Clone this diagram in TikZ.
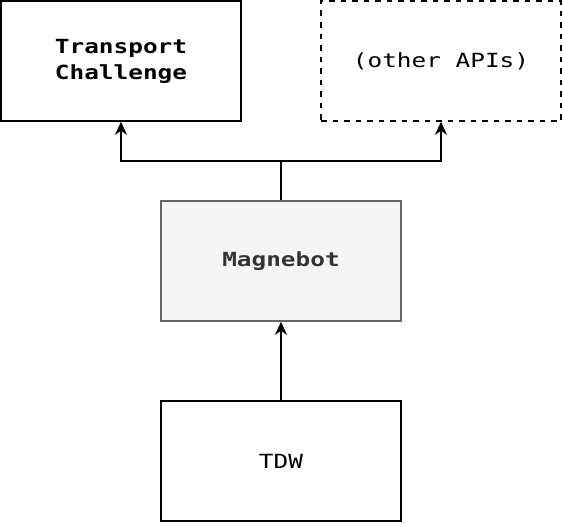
\documentclass[tikz,border=0pt]{standalone}
\usepackage{fontspec}
\usetikzlibrary{arrows.meta}
\newfontfamily\diagmono[FakeStretch=1.25]{DejaVu Sans Mono}
\definecolor{magfill}{HTML}{F5F5F5}
\definecolor{magdraw}{HTML}{666666}
\definecolor{magtext}{HTML}{333333}
\tikzset{
  box/.style={draw=black, line width=1.6pt, minimum width=240pt, minimum height=120pt,
    inner sep=0pt, align=center, font=\diagmono\fontsize{19.5}{26}\selectfont},
  dashbox/.style={box, dash pattern=on 5.5pt off 6pt},
  magbox/.style={box, draw=magdraw, fill=magfill, text=magtext},
  conn/.style={draw=black, line width=1.6pt, -{Stealth[length=13pt, width=12pt, inset=4pt]}}
}
\begin{document}
\begin{tikzpicture}[x=1pt,y=-1pt]
\useasboundingbox (0,0) rectangle (562,522);
\node[box] (tc) at (121,61) {\bfseries Transport\\\bfseries Challenge};
\node[dashbox] (api) at (441,61) {(other APIs)};
\node[magbox] (mag) at (281,261) {\bfseries Magnebot};
\node[box] (tdw) at (281,461) {TDW};
\coordinate (split) at (281,161);
\draw[line width=1.6pt] (mag.north) -- (split);
\draw[conn] (split) -| (tc.south);
\draw[conn] (split) -| (api.south);
\draw[conn] (tdw.north) -- (mag.south);
\end{tikzpicture}
\end{document}
